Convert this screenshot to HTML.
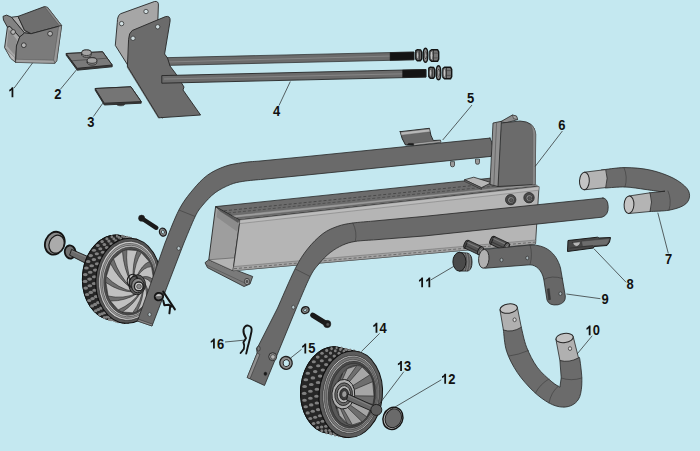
<!DOCTYPE html>
<html><head><meta charset="utf-8"><title>Parts diagram</title>
<style>
html,body{margin:0;padding:0;background:#c4e8f0;}
body{width:700px;height:451px;overflow:hidden;}
svg{display:block}
text{font-family:"Liberation Sans",sans-serif;font-weight:bold;font-size:13.8px;fill:#111;}
</style></head><body>
<svg width="700" height="451" viewBox="0 0 700 451">
<rect width="700" height="451" fill="#c4e8f0"/>
<polygon points="7.4,27.1 9.9,26.3 19.7,37.0 16.4,46.0 15.6,62.4 10.7,58.3 4.6,47.6" fill="#a9a9a9" stroke="#262626" stroke-width="0.9" stroke-linejoin="round" />
<polygon points="8.5,29.0 17.0,40.0 14.5,55.0 7.0,46.0" fill="#8c8c8c" stroke="none" stroke-width="0" stroke-linejoin="round" />
<polygon points="5.5,48.5 14.8,57.5 15.2,61.8 10.7,58.0" fill="#b8b8b8" stroke="#555" stroke-width="0.4" stroke-linejoin="round" />
<polygon points="3.0,16.4 6.6,15.1 11.5,17.2 24.6,32.9 19.7,37.0 9.9,26.3 7.4,27.1 3.5,20.0" fill="#828282" stroke="#262626" stroke-width="0.9" stroke-linejoin="round" />
<polygon points="11.5,17.2 18.0,16.4 24.6,30.4 31.2,33.7 24.6,32.9" fill="#adadad" stroke="#262626" stroke-width="0.9" stroke-linejoin="round" />
<polygon points="18.0,16.4 44.4,6.6 47.6,7.4 61.6,25.5 31.2,33.7 24.6,30.4" fill="#6e6e6e" stroke="#262626" stroke-width="0.9" stroke-linejoin="round" />
<polygon points="44.4,6.6 47.6,7.4 61.6,25.5 59.5,26.1" fill="#8a8a8a" stroke="#444" stroke-width="0.4" stroke-linejoin="round" />
<polygon points="19.7,37.0 24.6,32.9 31.2,33.7 61.6,25.5 56.7,60.8 55.0,63.2 15.6,62.4 16.4,46.0" fill="#7b7b7b" stroke="#262626" stroke-width="0.9" stroke-linejoin="round" />
<polygon points="58.6,26.8 61.6,25.5 56.7,60.8 55.0,63.2 53.6,60.2" fill="#999" stroke="#444" stroke-width="0.4" stroke-linejoin="round" />
<polygon points="16.0,59.3 53.6,60.2 55.0,63.2 15.6,62.4" fill="#a2a2a2" stroke="#444" stroke-width="0.4" stroke-linejoin="round" />
<circle cx="13.1" cy="32.0" r="2.4" fill="#b4b4b4" stroke="#262626" stroke-width="0.8"/>
<circle cx="50.1" cy="33.7" r="2.4" fill="#b4b4b4" stroke="#262626" stroke-width="0.8"/>
<circle cx="23.8" cy="45.2" r="2.4" fill="#b4b4b4" stroke="#262626" stroke-width="0.8"/>
<polygon points="66.2,53.5 102.6,51.8 112.2,65.0 112.2,66.8 77.2,70.2 66.2,55.2" fill="#3c3c3c" stroke="#262626" stroke-width="0.9" stroke-linejoin="round" />
<polygon points="66.2,53.5 102.6,51.8 112.2,65.0 77.2,68.3" fill="#7a7a7a" stroke="#262626" stroke-width="0.9" stroke-linejoin="round" />
<line x1="71.5" y1="60.8" x2="107.2" y2="58.2" stroke="#3a3a3a" stroke-width="0.6"/>
<path d="M81.7,54.5 v-1.8 a4.8,2.8 0 0 1 9.6,0 v1.8 a4.8,2.8 0 0 1 -9.6,0z" fill="#8e8e8e" stroke="#262626" stroke-width="0.8" stroke-linejoin="round" stroke-linecap="round" />
<ellipse cx="86.5" cy="52.7" rx="4.8" ry="2.8" fill="#a4a4a4" stroke="#262626" stroke-width="0.8" transform="rotate(0.0 86.5 52.7)"/>
<path d="M87.2,62.3 v-1.8 a4.8,2.8 0 0 1 9.6,0 v1.8 a4.8,2.8 0 0 1 -9.6,0z" fill="#8e8e8e" stroke="#262626" stroke-width="0.8" stroke-linejoin="round" stroke-linecap="round" />
<ellipse cx="92.0" cy="60.5" rx="4.8" ry="2.8" fill="#a4a4a4" stroke="#262626" stroke-width="0.8" transform="rotate(0.0 92.0 60.5)"/>
<ellipse cx="120.7" cy="103.6" rx="4.2" ry="2.2" fill="#3c3c3c" stroke="#262626" stroke-width="0.6" transform="rotate(0.0 120.7 103.6)"/>
<polygon points="95.2,88.5 130.9,86.8 141.2,101.6 141.2,103.2 104.3,105.0 95.2,90.2" fill="#3a3a3a" stroke="#262626" stroke-width="0.9" stroke-linejoin="round" />
<polygon points="95.2,88.5 130.9,86.8 141.2,101.6 104.3,103.2" fill="#757575" stroke="#262626" stroke-width="0.9" stroke-linejoin="round" />
<path d="M117.3,22 Q117.3,16 120.4,13.8 L154.5,1.5 Q158.6,0.8 158.4,5 L157,45 L140,85 L128.6,66.5 L115.5,45.7 Z" fill="#a6a6a6" stroke="#262626" stroke-width="0.9" stroke-linejoin="round" stroke-linecap="round" />
<circle cx="121.6" cy="23.6" r="2.2" fill="#d0dde0" stroke="#262626" stroke-width="0.7"/>
<circle cx="146.0" cy="11.5" r="2.2" fill="#d0dde0" stroke="#262626" stroke-width="0.7"/>
<polygon points="160.0,57.8 414.0,52.0 414.0,59.8 160.0,65.6" fill="#6b6b6b" stroke="#262626" stroke-width="0.7" stroke-linejoin="round" />
<line x1="160.0" y1="62.2" x2="392.0" y2="56.0" stroke="#8c8c8c" stroke-width="0.8"/>
<polygon points="390.0,52.6 414.0,52.0 414.0,59.8 390.0,60.4" fill="#141414" stroke="#262626" stroke-width="0.5" stroke-linejoin="round" />
<polygon points="128.2,66.0 159.3,117.0 158.6,118.2 127.0,66.8" fill="#b0b0b0" stroke="#262626" stroke-width="0.5" stroke-linejoin="round" />
<path d="M128.6,39 Q128.8,33 132.2,30.5 L165.5,16.6 Q170.6,15.4 170.1,21 L164.6,54 L167.5,58 L170,66 L176,74 L184,87 L183,90 L200.6,115 L159,117.8 L127.6,66.5 Z" fill="#6b6b6b" stroke="#262626" stroke-width="0.9" stroke-linejoin="round" stroke-linecap="round" />
<line x1="161.0" y1="117.0" x2="163.0" y2="118.5" stroke="#222" stroke-width="0.5"/>
<circle cx="133.0" cy="38.3" r="2.2" fill="#d0dde0" stroke="#262626" stroke-width="0.7"/>
<circle cx="157.7" cy="26.8" r="2.2" fill="#d0dde0" stroke="#262626" stroke-width="0.7"/>
<polygon points="161.8,75.6 426.0,69.5 426.0,77.1 161.8,83.2" fill="#6b6b6b" stroke="#262626" stroke-width="0.9" stroke-linejoin="round" />
<line x1="164.0" y1="79.0" x2="404.0" y2="73.8" stroke="#8c8c8c" stroke-width="0.8"/>
<polygon points="402.5,70.0 426.0,69.5 426.0,77.1 402.5,77.6" fill="#141414" stroke="#262626" stroke-width="0.5" stroke-linejoin="round" />
<polygon points="415.8,50.7 417.5,49.7 420.7,49.9 421.7,52.3 421.7,58.8 420.5,60.7 417.3,60.7 415.8,59.1" fill="#6e6e6e" stroke="#141414" stroke-width="1.4" stroke-linejoin="round" />
<ellipse cx="417.7" cy="55.3" rx="1.1" ry="3.4" fill="#c8c8c8" stroke="#333" stroke-width="0.5" transform="rotate(0.0 417.7 55.3)"/>
<line x1="419.3" y1="50.3" x2="419.3" y2="60.3" stroke="#141414" stroke-width="0.6"/>
<ellipse cx="425.5" cy="55.3" rx="2.3" ry="7.0" fill="#8c8c8c" stroke="#141414" stroke-width="1.4" transform="rotate(0.0 425.5 55.3)"/>
<ellipse cx="425.8" cy="55.3" rx="1.0" ry="3.6" fill="#cfcfcf" stroke="#141414" stroke-width="0.7" transform="rotate(0.0 425.8 55.3)"/>
<polygon points="429.9,51.0 431.5,49.7 437.5,49.7 438.7,51.8 438.7,59.1 437.5,61.3 431.5,61.3 429.9,59.8" fill="#777" stroke="#141414" stroke-width="1.4" stroke-linejoin="round" />
<ellipse cx="431.5" cy="55.5" rx="1.3" ry="4.2" fill="#c4c4c4" stroke="#333" stroke-width="0.5" transform="rotate(0.0 431.5 55.5)"/>
<line x1="433.5" y1="49.9" x2="433.5" y2="61.1" stroke="#141414" stroke-width="0.6"/>
<line x1="433.5" y1="53.1" x2="438.7" y2="53.1" stroke="#333" stroke-width="0.5"/>
<line x1="433.5" y1="57.9" x2="438.7" y2="57.9" stroke="#333" stroke-width="0.5"/>
<polygon points="428.8,68.2 430.5,67.2 433.7,67.4 434.7,69.8 434.7,76.3 433.5,78.2 430.3,78.2 428.8,76.6" fill="#6e6e6e" stroke="#141414" stroke-width="1.4" stroke-linejoin="round" />
<ellipse cx="430.7" cy="72.8" rx="1.1" ry="3.4" fill="#c8c8c8" stroke="#333" stroke-width="0.5" transform="rotate(0.0 430.7 72.8)"/>
<line x1="432.3" y1="67.8" x2="432.3" y2="77.8" stroke="#141414" stroke-width="0.6"/>
<ellipse cx="438.5" cy="72.8" rx="2.3" ry="7.0" fill="#8c8c8c" stroke="#141414" stroke-width="1.4" transform="rotate(0.0 438.5 72.8)"/>
<ellipse cx="438.8" cy="72.8" rx="1.0" ry="3.6" fill="#cfcfcf" stroke="#141414" stroke-width="0.7" transform="rotate(0.0 438.8 72.8)"/>
<polygon points="442.9,68.5 444.5,67.2 450.5,67.2 451.7,69.3 451.7,76.6 450.5,78.8 444.5,78.8 442.9,77.3" fill="#777" stroke="#141414" stroke-width="1.4" stroke-linejoin="round" />
<ellipse cx="444.5" cy="73.0" rx="1.3" ry="4.2" fill="#c4c4c4" stroke="#333" stroke-width="0.5" transform="rotate(0.0 444.5 73.0)"/>
<line x1="446.5" y1="67.4" x2="446.5" y2="78.6" stroke="#141414" stroke-width="0.6"/>
<line x1="446.5" y1="70.6" x2="451.7" y2="70.6" stroke="#333" stroke-width="0.5"/>
<line x1="446.5" y1="75.4" x2="451.7" y2="75.4" stroke="#333" stroke-width="0.5"/>
<ellipse cx="54.8" cy="243.2" rx="9.6" ry="11.7" fill="#8a8a8a" stroke="#141414" stroke-width="1.8" transform="rotate(22.0 54.8 243.2)"/>
<ellipse cx="56.6" cy="244.2" rx="7.4" ry="9.2" fill="#ababab" stroke="#1a1a1a" stroke-width="1.2" transform="rotate(22.0 56.6 244.2)"/>
<ellipse cx="70.2" cy="252.0" rx="5.4" ry="6.6" fill="#707070" stroke="#141414" stroke-width="1.8" transform="rotate(-10.0 70.2 252.0)"/>
<polygon points="71.5,249.4 89.9,257.4 85.9,263.4 69.6,255.2" fill="#6a6a6a" stroke="#1a1a1a" stroke-width="0.9" stroke-linejoin="round" />
<line x1="72.0" y1="251.0" x2="89.0" y2="258.6" stroke="#8c8c8c" stroke-width="0.7"/>
<g>
<ellipse cx="114.8" cy="277.6" rx="32.3" ry="42.6" fill="#262626" stroke="#111" stroke-width="1.0" transform="rotate(4.0 114.8 277.6)"/>
<polygon points="111.8,320.1 110.1,319.9 108.5,319.6 106.8,319.2 105.2,318.7 103.6,318.1 102.0,317.3 100.5,316.5 99.0,315.5 97.5,314.4 96.1,313.3 94.8,312.0 93.5,310.7 92.2,309.2 91.0,307.7 89.9,306.1 88.9,304.4 87.9,302.6 87.0,300.8 86.2,298.9 85.4,296.9 84.7,294.9 84.2,292.8 83.7,290.7 83.2,288.6 82.9,286.4 82.7,284.2 82.5,282.0 82.4,279.8 82.5,277.6 82.6,275.3 82.8,273.1 83.1,270.9 83.4,268.7 83.9,266.6 84.4,264.4 85.1,262.3 85.8,260.3 86.6,258.3 87.4,256.3 88.4,254.4 89.4,252.6 90.5,250.8 91.6,249.1 92.8,247.5 94.1,246.0 95.4,244.5 96.8,243.2 98.3,241.9 99.7,240.7 101.3,239.7 102.8,238.7 104.4,237.9 106.0,237.1 107.7,236.5 109.3,236.0 111.0,235.6 112.7,235.3 114.4,235.1 116.1,235.0 117.8,235.1 131.2,238.3 129.5,238.2 127.8,238.3 126.1,238.5 124.4,238.8 122.7,239.2 121.1,239.7 119.4,240.3 117.8,241.1 116.2,241.9 114.7,242.9 113.1,243.9 111.7,245.1 110.2,246.4 108.8,247.7 107.5,249.2 106.2,250.7 105.0,252.3 103.9,254.0 102.8,255.8 101.8,257.6 100.8,259.5 100.0,261.5 99.2,263.5 98.5,265.5 97.8,267.6 97.3,269.8 96.8,271.9 96.5,274.1 96.2,276.3 96.0,278.5 95.9,280.8 95.8,283.0 95.9,285.2 96.1,287.4 96.3,289.6 96.6,291.8 97.1,293.9 97.6,296.0 98.1,298.1 98.8,300.1 99.6,302.1 100.4,304.0 101.3,305.8 102.3,307.6 103.3,309.3 104.4,310.9 105.6,312.4 106.9,313.9 108.2,315.2 109.5,316.5 110.9,317.6 112.4,318.7 113.9,319.7 115.4,320.5 117.0,321.3 118.6,321.9 120.2,322.4 121.9,322.8 123.5,323.1 125.2,323.3" fill="#262626" stroke="#111" stroke-width="1.0" stroke-linejoin="round" />
<ellipse cx="124.3" cy="319.1" rx="1.36" ry="1.55" fill="#808080"/>
<ellipse cx="119.3" cy="320.3" rx="1.13" ry="1.55" fill="#808080"/>
<ellipse cx="114.1" cy="320.5" rx="0.91" ry="1.55" fill="#808080"/>
<ellipse cx="109.1" cy="319.5" rx="1.15" ry="1.55" fill="#808080"/>
<ellipse cx="104.2" cy="317.6" rx="1.38" ry="1.55" fill="#808080"/>
<ellipse cx="99.7" cy="314.6" rx="1.60" ry="1.55" fill="#808080"/>
<ellipse cx="95.7" cy="310.7" rx="1.80" ry="1.55" fill="#808080"/>
<ellipse cx="92.1" cy="305.9" rx="1.98" ry="1.55" fill="#808080"/>
<ellipse cx="89.3" cy="300.5" rx="2.13" ry="1.55" fill="#808080"/>
<ellipse cx="87.1" cy="294.5" rx="2.25" ry="1.55" fill="#808080"/>
<ellipse cx="85.7" cy="288.1" rx="2.34" ry="1.55" fill="#808080"/>
<ellipse cx="85.1" cy="281.4" rx="2.39" ry="1.55" fill="#808080"/>
<ellipse cx="85.3" cy="274.6" rx="2.40" ry="1.55" fill="#808080"/>
<ellipse cx="86.4" cy="268.0" rx="2.37" ry="1.55" fill="#808080"/>
<ellipse cx="88.2" cy="261.5" rx="2.31" ry="1.55" fill="#808080"/>
<ellipse cx="90.8" cy="255.6" rx="2.21" ry="1.55" fill="#808080"/>
<ellipse cx="94.0" cy="250.2" rx="2.08" ry="1.55" fill="#808080"/>
<ellipse cx="97.8" cy="245.5" rx="1.91" ry="1.55" fill="#808080"/>
<ellipse cx="102.1" cy="241.6" rx="1.72" ry="1.55" fill="#808080"/>
<ellipse cx="106.9" cy="238.7" rx="1.51" ry="1.55" fill="#808080"/>
<ellipse cx="111.8" cy="236.8" rx="1.29" ry="1.55" fill="#808080"/>
<ellipse cx="116.9" cy="235.9" rx="1.05" ry="1.55" fill="#808080"/>
<ellipse cx="122.1" cy="236.1" rx="0.99" ry="1.55" fill="#808080"/>
<ellipse cx="127.0" cy="237.4" rx="1.22" ry="1.55" fill="#808080"/>
<ellipse cx="126.3" cy="320.9" rx="1.25" ry="1.55" fill="#808080"/>
<ellipse cx="121.2" cy="321.6" rx="1.01" ry="1.55" fill="#808080"/>
<ellipse cx="116.1" cy="321.2" rx="1.03" ry="1.55" fill="#808080"/>
<ellipse cx="111.1" cy="319.7" rx="1.26" ry="1.55" fill="#808080"/>
<ellipse cx="106.4" cy="317.3" rx="1.49" ry="1.55" fill="#808080"/>
<ellipse cx="102.1" cy="313.8" rx="1.70" ry="1.55" fill="#808080"/>
<ellipse cx="98.3" cy="309.5" rx="1.89" ry="1.55" fill="#808080"/>
<ellipse cx="95.1" cy="304.4" rx="2.06" ry="1.55" fill="#808080"/>
<ellipse cx="92.6" cy="298.6" rx="2.20" ry="1.55" fill="#808080"/>
<ellipse cx="90.8" cy="292.4" rx="2.30" ry="1.55" fill="#808080"/>
<ellipse cx="89.8" cy="285.8" rx="2.37" ry="1.55" fill="#808080"/>
<ellipse cx="89.6" cy="279.1" rx="2.40" ry="1.55" fill="#808080"/>
<ellipse cx="90.2" cy="272.3" rx="2.39" ry="1.55" fill="#808080"/>
<ellipse cx="91.7" cy="265.8" rx="2.35" ry="1.55" fill="#808080"/>
<ellipse cx="93.9" cy="259.6" rx="2.26" ry="1.55" fill="#808080"/>
<ellipse cx="96.8" cy="253.8" rx="2.15" ry="1.55" fill="#808080"/>
<ellipse cx="100.3" cy="248.8" rx="2.00" ry="1.55" fill="#808080"/>
<ellipse cx="104.4" cy="244.5" rx="1.82" ry="1.55" fill="#808080"/>
<ellipse cx="108.9" cy="241.1" rx="1.62" ry="1.55" fill="#808080"/>
<ellipse cx="113.8" cy="238.7" rx="1.40" ry="1.55" fill="#808080"/>
<ellipse cx="118.8" cy="237.2" rx="1.17" ry="1.55" fill="#808080"/>
<ellipse cx="124.0" cy="236.9" rx="0.93" ry="1.55" fill="#808080"/>
<ellipse cx="129.0" cy="237.7" rx="1.11" ry="1.55" fill="#808080"/>
<ellipse cx="133.9" cy="239.5" rx="1.34" ry="1.55" fill="#808080"/>
<ellipse cx="133.3" cy="321.2" rx="1.36" ry="1.55" fill="#808080"/>
<ellipse cx="128.2" cy="322.5" rx="1.13" ry="1.55" fill="#808080"/>
<ellipse cx="123.1" cy="322.6" rx="0.91" ry="1.55" fill="#808080"/>
<ellipse cx="118.0" cy="321.7" rx="1.15" ry="1.55" fill="#808080"/>
<ellipse cx="113.2" cy="319.7" rx="1.38" ry="1.55" fill="#808080"/>
<ellipse cx="108.7" cy="316.7" rx="1.60" ry="1.55" fill="#808080"/>
<ellipse cx="104.6" cy="312.8" rx="1.80" ry="1.55" fill="#808080"/>
<ellipse cx="101.1" cy="308.1" rx="1.98" ry="1.55" fill="#808080"/>
<ellipse cx="98.2" cy="302.6" rx="2.13" ry="1.55" fill="#808080"/>
<ellipse cx="96.0" cy="296.6" rx="2.25" ry="1.55" fill="#808080"/>
<ellipse cx="94.6" cy="290.2" rx="2.34" ry="1.55" fill="#808080"/>
<ellipse cx="94.1" cy="283.5" rx="2.39" ry="1.55" fill="#808080"/>
<ellipse cx="94.3" cy="276.8" rx="2.40" ry="1.55" fill="#808080"/>
<ellipse cx="95.3" cy="270.1" rx="2.37" ry="1.55" fill="#808080"/>
<ellipse cx="97.1" cy="263.7" rx="2.31" ry="1.55" fill="#808080"/>
<ellipse cx="99.7" cy="257.7" rx="2.21" ry="1.55" fill="#808080"/>
<ellipse cx="102.9" cy="252.3" rx="2.08" ry="1.55" fill="#808080"/>
<ellipse cx="106.8" cy="247.6" rx="1.91" ry="1.55" fill="#808080"/>
<ellipse cx="111.1" cy="243.7" rx="1.72" ry="1.55" fill="#808080"/>
<ellipse cx="115.8" cy="240.8" rx="1.51" ry="1.55" fill="#808080"/>
<ellipse cx="120.8" cy="238.9" rx="1.29" ry="1.55" fill="#808080"/>
<ellipse cx="125.9" cy="238.0" rx="1.05" ry="1.55" fill="#808080"/>
<ellipse cx="131.0" cy="238.2" rx="0.99" ry="1.55" fill="#808080"/>
<ellipse cx="136.0" cy="239.5" rx="1.22" ry="1.55" fill="#808080"/>
<ellipse cx="128.2" cy="280.8" rx="32.3" ry="42.6" fill="#555" stroke="#111" stroke-width="1.0" transform="rotate(4.0 128.2 280.8)"/>
<ellipse cx="128.5" cy="280.8" rx="29.9" ry="39.6" fill="#c8c8c8" stroke="#222" stroke-width="0.6" transform="rotate(4.0 128.5 280.8)"/>
<ellipse cx="128.8" cy="280.9" rx="28.3" ry="37.6" fill="#9a9a9a" stroke="#333" stroke-width="0.5" transform="rotate(4.0 128.8 280.9)"/>
<ellipse cx="129.1" cy="281.0" rx="26.9" ry="35.8" fill="#c4c4c4" stroke="#222" stroke-width="0.5" transform="rotate(4.0 129.1 281.0)"/>
<ellipse cx="129.4" cy="281.1" rx="25.7" ry="34.2" fill="#505050" stroke="#222" stroke-width="0.5" transform="rotate(4.0 129.4 281.1)"/>
<ellipse cx="129.8" cy="281.3" rx="24.1" ry="32.2" fill="#6e6e6e" stroke="#222" stroke-width="0.5" transform="rotate(4.0 129.8 281.3)"/>
</g>
<path d="M141.2,277.9 Q148.9,277.5 153.3,286.1 L149.1,299.1 Q148.8,287.5 143.3,281.4 Z" fill="#c0c0c0" stroke="#222" stroke-width="0.6" stroke-linejoin="round" stroke-linecap="round" />
<path d="M143.5,282.1 Q148.0,290.5 146.1,303.8 L137.1,311.3 Q143.5,298.8 143.5,286.7 Z" fill="#c0c0c0" stroke="#222" stroke-width="0.6" stroke-linejoin="round" stroke-linecap="round" />
<path d="M143.3,287.4 Q141.6,300.7 132.7,312.8 L122.3,312.0 Q134.5,304.0 141.3,291.2 Z" fill="#c0c0c0" stroke="#222" stroke-width="0.6" stroke-linejoin="round" stroke-linecap="round" />
<path d="M140.8,291.6 Q132.1,304.1 118.2,309.9 L110.4,301.0 Q125.0,301.3 137.6,293.3 Z" fill="#c0c0c0" stroke="#222" stroke-width="0.6" stroke-linejoin="round" stroke-linecap="round" />
<path d="M137.0,293.3 Q123.1,299.5 108.1,296.0 L105.9,282.5 Q118.8,291.6 133.7,292.1 Z" fill="#c0c0c0" stroke="#222" stroke-width="0.6" stroke-linejoin="round" stroke-linecap="round" />
<path d="M133.2,291.7 Q118.1,288.6 106.3,276.5 L110.5,263.5 Q118.2,278.6 131.1,288.2 Z" fill="#c0c0c0" stroke="#222" stroke-width="0.6" stroke-linejoin="round" stroke-linecap="round" />
<path d="M130.9,287.5 Q119.0,275.6 113.5,258.8 L122.5,251.3 Q123.5,267.3 130.9,282.9 Z" fill="#c0c0c0" stroke="#222" stroke-width="0.6" stroke-linejoin="round" stroke-linecap="round" />
<path d="M131.1,282.2 Q125.4,265.4 126.9,249.8 L137.3,250.6 Q132.5,262.1 133.1,278.4 Z" fill="#c0c0c0" stroke="#222" stroke-width="0.6" stroke-linejoin="round" stroke-linecap="round" />
<path d="M133.6,278.0 Q134.9,262.0 141.4,252.7 L149.2,261.6 Q142.0,264.8 136.8,276.3 Z" fill="#c0c0c0" stroke="#222" stroke-width="0.6" stroke-linejoin="round" stroke-linecap="round" />
<path d="M137.4,276.3 Q143.9,266.6 151.5,266.6 L153.7,280.1 Q148.2,274.5 140.7,277.5 Z" fill="#c0c0c0" stroke="#222" stroke-width="0.6" stroke-linejoin="round" stroke-linecap="round" />
<ellipse cx="137.2" cy="284.8" rx="8.2" ry="10.0" fill="#5a5a5a" stroke="#1a1a1a" stroke-width="0.9" transform="rotate(4.0 137.2 284.8)"/>
<ellipse cx="132.6" cy="280.8" rx="5.4" ry="6.6" fill="none" stroke="#1a1a1a" stroke-width="1.0" transform="rotate(4.0 132.6 280.8)"/>
<ellipse cx="133.8" cy="282.2" rx="4.6" ry="5.8" fill="none" stroke="#1a1a1a" stroke-width="0.8" transform="rotate(4.0 133.8 282.2)"/>
<ellipse cx="137.8" cy="285.6" rx="6.2" ry="7.2" fill="#8a8a8a" stroke="#1a1a1a" stroke-width="0.9" transform="rotate(4.0 137.8 285.6)"/>
<ellipse cx="138.8" cy="286.4" rx="4.4" ry="4.4" fill="#d6d6d6" stroke="#222" stroke-width="1.5" transform="rotate(4.0 138.8 286.4)"/>
<ellipse cx="139.0" cy="286.5" rx="2.4" ry="2.3" fill="#8a8a8a" stroke="#333" stroke-width="0.6" transform="rotate(4.0 139.0 286.5)"/>
<path d="M490,138.1 L305,156.7 L260,161 L260.0,161.0 C257.1,161.3 248.6,161.7 242.8,162.6 C237.0,163.5 231.0,164.2 225.2,166.3 C219.3,168.4 213.1,171.1 207.7,175.0 C202.3,178.9 197.5,184.2 192.7,190.0 C187.9,195.8 183.5,201.2 178.9,210.0 C174.3,218.8 167.3,237.5 165.0,243.0 L137.5,321 L152,326 L183.9,243 L183.9,243.0 C185.8,238.6 192.1,222.8 195.2,216.5 C198.3,210.2 199.4,209.2 202.7,205.2 C206.0,201.2 210.6,196.1 215.2,192.7 C219.8,189.3 225.7,186.5 230.3,184.6 C234.9,182.7 237.5,182.3 242.8,181.4 C248.1,180.5 258.8,179.7 262.0,179.4 L305,175.2 L491,156.4 Q495,147 490,138.1 Z" fill="#6a6a6a" stroke="#262626" stroke-width="0.8" stroke-linejoin="round" stroke-linecap="round" />
<line x1="178.9" y1="210.0" x2="195.2" y2="216.5" stroke="#333" stroke-width="0.5"/>
<ellipse cx="178.7" cy="248.3" rx="1.7" ry="2.0" fill="#b7c6ca" stroke="#262626" stroke-width="0.6" transform="rotate(0.0 178.7 248.3)"/>
<ellipse cx="149.6" cy="314.5" rx="1.6" ry="1.9" fill="#b7c6ca" stroke="#262626" stroke-width="0.6" transform="rotate(0.0 149.6 314.5)"/>
<polygon points="137.5,321.0 152.0,326.0 152.6,324.2 138.2,319.2" fill="#8a8a8a" stroke="#262626" stroke-width="0.5" stroke-linejoin="round" />
<path d="M142,218.5 L156.3,227.8" fill="none" stroke="#1a1a1a" stroke-width="4.4" stroke-linejoin="round" stroke-linecap="round" />
<circle cx="141.6" cy="218.2" r="3.1" fill="#1a1a1a" stroke="#262626" stroke-width="0.5"/>
<ellipse cx="162.9" cy="232.1" rx="3.4" ry="4.1" fill="#8a8a8a" stroke="#1e1e1e" stroke-width="1.3" transform="rotate(-20.0 162.9 232.1)"/>
<ellipse cx="162.9" cy="232.1" rx="1.4" ry="1.9" fill="#c4e8f0" stroke="#222" stroke-width="0.7" transform="rotate(-20.0 162.9 232.1)"/>
<ellipse cx="158.9" cy="296.6" rx="4.2" ry="3.7" fill="#6a6a6a" stroke="#141414" stroke-width="1.9" transform="rotate(-15.0 158.9 296.6)"/>
<path d="M155.6,296.2 Q158.5,292 162,295.8 Z" fill="#cfcfcf" stroke="#888" stroke-width="0.3" stroke-linejoin="round" stroke-linecap="round" />
<path d="M163.2,291.6 L174.9,309.4 M163.2,300.6 L164.4,305.2 L168.8,304.8 L171.2,306.6 M170.2,306.4 L169.4,313.3" fill="none" stroke="#141414" stroke-width="2.0" stroke-linejoin="round" stroke-linecap="round" />
<path d="M400.2,131.7 L429.4,128.3 Q430.5,136 433.3,140.5 L440.5,140.2 L440.8,142.2 L413.9,145.3 L405.5,145 Q401.5,139 400.2,131.7 Z" fill="#686868" stroke="#1c1c1c" stroke-width="0.9" stroke-linejoin="round" stroke-linecap="round" />
<polygon points="400.6,132.2 429.3,128.9 430.0,131.8 401.4,135.2" fill="#b8b8b8" stroke="#555" stroke-width="0.4" stroke-linejoin="round" />
<polygon points="413.9,143.4 440.5,140.5 440.8,142.2 413.9,145.3" fill="#aaaaaa" stroke="#444" stroke-width="0.4" stroke-linejoin="round" />
<polygon points="408.5,143.2 413.5,143.2 413.5,145.0 407.0,145.0" fill="#1c1c1c" stroke="#262626" stroke-width="0.2" stroke-linejoin="round" />
<path d="M450.5,162.0 v3.2 a2,1.6 0 0 0 4,0 v-3.2z" fill="#9a9a9a" stroke="#262626" stroke-width="0.7" stroke-linejoin="round" stroke-linecap="round" />
<path d="M475.5,159.5 v3.2 a2,1.6 0 0 0 4,0 v-3.2z" fill="#9a9a9a" stroke="#262626" stroke-width="0.7" stroke-linejoin="round" stroke-linecap="round" />
<polygon points="205.0,262.7 208.8,259.7 252.7,276.5 250.0,284.0 244.0,286.5 207.5,267.7" fill="#7a7a7a" stroke="#262626" stroke-width="0.8" stroke-linejoin="round" />
<line x1="206.5" y1="265.0" x2="246.0" y2="283.5" stroke="#444" stroke-width="0.5"/>
<ellipse cx="247.0" cy="281.5" rx="2.6" ry="3.2" fill="#a0a0a0" stroke="#262626" stroke-width="0.7" transform="rotate(0.0 247.0 281.5)"/>
<ellipse cx="247.0" cy="281.5" rx="1.0" ry="1.3" fill="#555" stroke="#262626" stroke-width="0.4" transform="rotate(0.0 247.0 281.5)"/>
<polygon points="215.6,206.6 240.0,220.0 233.0,270.7 208.8,259.7" fill="#9e9e9e" stroke="#262626" stroke-width="0.9" stroke-linejoin="round" />
<polygon points="217.5,209.5 238.6,222.0 237.6,232.0 216.6,217.0" fill="#8c8c8c" stroke="none" stroke-width="0" stroke-linejoin="round" />
<polygon points="211.0,259.6 234.6,257.8 233.0,270.7 208.8,259.7" fill="#b4b4b4" stroke="#444" stroke-width="0.5" stroke-linejoin="round" />
<polygon points="216.4,207.4 239.0,220.3 238.2,222.6 220.0,211.0" fill="#585858" stroke="#444" stroke-width="0.4" stroke-linejoin="round" />
<polygon points="215.6,206.6 497.0,177.5 539.0,186.6 240.0,220.0" fill="#6c6c6c" stroke="#262626" stroke-width="0.8" stroke-linejoin="round" />
<polygon points="232.0,215.4 535.0,184.0 537.5,185.4 236.0,217.6" fill="#9c9c9c" stroke="#555" stroke-width="0.3" stroke-linejoin="round" />
<line x1="224" y1="210.8" x2="520" y2="180.8" stroke="#3a3a3a" stroke-width="0.7" stroke-dasharray="3 2"/>
<line x1="228" y1="213" x2="530" y2="182.6" stroke="#3a3a3a" stroke-width="0.6" stroke-dasharray="3 2"/>
<polygon points="240.0,220.0 539.0,186.6 535.5,244.0 233.0,270.7" fill="#b5b5b5" stroke="#262626" stroke-width="0.8" stroke-linejoin="round" />
<polygon points="240.0,220.0 539.0,186.6 538.8,190.2 239.6,223.6" fill="#bcbcbc" stroke="#666" stroke-width="0.4" stroke-linejoin="round" />
<polygon points="233.6,266.6 535.8,240.0 535.5,244.0 233.0,270.7" fill="#a4a4a4" stroke="#555" stroke-width="0.4" stroke-linejoin="round" />
<line x1="234" y1="268.7" x2="535.6" y2="242.1" stroke="#444" stroke-width="0.6" stroke-dasharray="3 2"/>
<circle cx="510.7" cy="199.7" r="5.2" fill="#4c4c4c" stroke="#262626" stroke-width="0.8"/>
<circle cx="511.0" cy="200.0" r="3.4" fill="#8c8c8c" stroke="#262626" stroke-width="0.7"/>
<circle cx="511.3" cy="200.2" r="1.8" fill="#5a5a5a" stroke="#262626" stroke-width="0.5"/>
<circle cx="529.0" cy="197.7" r="5.2" fill="#4c4c4c" stroke="#262626" stroke-width="0.8"/>
<circle cx="529.3" cy="198.0" r="3.4" fill="#8c8c8c" stroke="#262626" stroke-width="0.7"/>
<circle cx="529.6" cy="198.2" r="1.8" fill="#5a5a5a" stroke="#262626" stroke-width="0.5"/>
<polygon points="464.5,179.7 473.8,177.2 491.4,182.7 481.4,187.7" fill="#b6b6b6" stroke="#262626" stroke-width="0.8" stroke-linejoin="round" />
<polygon points="464.5,179.7 481.4,187.7 481.4,189.4 464.5,181.4" fill="#6a6a6a" stroke="#262626" stroke-width="0.6" stroke-linejoin="round" />
<polygon points="500.5,121.8 512.4,115.0 516.5,116.2 517.6,119.6 506.0,122.9" fill="#8c8c8c" stroke="#262626" stroke-width="0.8" stroke-linejoin="round" />
<polygon points="512.4,115.0 516.5,116.2 517.6,119.6 513.6,118.6" fill="#a4a4a4" stroke="#262626" stroke-width="0.5" stroke-linejoin="round" />
<path d="M501.4,123 L520,121 Q534.5,121.5 535.7,134 L535.2,184.5 L498,186.5 Z" fill="#6b6b6b" stroke="#262626" stroke-width="0.8" stroke-linejoin="round" stroke-linecap="round" />
<path d="M530.5,124.5 Q535,127 535.7,134 L535.2,184.5 L532.6,184.7 L533,134 Q532.6,128 530.5,124.5 Z" fill="#8a8a8a" stroke="#555" stroke-width="0.4" stroke-linejoin="round" stroke-linecap="round" />
<polygon points="493.0,123.0 501.4,121.3 498.0,186.5 490.0,184.5" fill="#909090" stroke="#262626" stroke-width="0.8" stroke-linejoin="round" />
<line x1="496.6" y1="122.4" x2="493.8" y2="185.5" stroke="#444" stroke-width="0.5"/>
<path d="M603,198 L425,216.3 L372,221.2 L372.0,221.2 C368.8,221.5 358.5,222.2 352.8,223.0 C347.1,223.8 342.7,224.5 337.7,226.3 C332.7,228.1 327.7,230.0 322.7,233.8 C317.7,237.6 312.2,243.1 307.6,248.9 C303.0,254.8 300.1,259.0 295.1,268.9 C290.1,278.8 280.5,301.5 277.6,308.0 L258.3,346 L256.5,348.3 L257.1,353.1 L247.2,377.5 L264.5,385.5 L296.4,308 L296.4,308.0 C298.7,302.8 306.4,283.9 310.2,276.5 C313.9,269.1 315.6,267.9 318.9,263.9 C322.2,259.9 326.2,255.7 330.2,252.6 C334.2,249.5 338.5,247.0 342.7,245.1 C346.9,243.2 349.9,242.3 355.3,241.4 C360.7,240.5 371.7,240.1 375.0,239.8 L425,235.9 L602,217.2 Q608.6,215 608.2,206.5 Q607.8,198.4 603,198 Z" fill="#6a6a6a" stroke="#262626" stroke-width="0.8" stroke-linejoin="round" stroke-linecap="round" />
<path d="M352.8,223 Q357.5,232 355.3,241.4" fill="none" stroke="#333" stroke-width="0.5" stroke-linejoin="round" stroke-linecap="round" />
<line x1="295.1" y1="268.9" x2="310.2" y2="276.5" stroke="#333" stroke-width="0.5"/>
<polygon points="257.1,353.1 247.2,377.5 250.0,378.8 259.8,354.5" fill="#909090" stroke="#262626" stroke-width="0.5" stroke-linejoin="round" />
<ellipse cx="293.3" cy="307.2" rx="1.6" ry="1.9" fill="#b7c6ca" stroke="#262626" stroke-width="0.6" transform="rotate(0.0 293.3 307.2)"/>
<ellipse cx="265.4" cy="373.8" rx="1.5" ry="1.8" fill="#1a1a1a" stroke="#262626" stroke-width="0.4" transform="rotate(0.0 265.4 373.8)"/>
<circle cx="272.7" cy="356.7" r="4.0" fill="#8a8a8a" stroke="#262626" stroke-width="0.9"/>
<circle cx="272.9" cy="356.9" r="2.3" fill="#b4b4b4" stroke="#262626" stroke-width="0.6"/>
<ellipse cx="258.6" cy="348.6" rx="1.6" ry="2.4" fill="#7a7a7a" stroke="#262626" stroke-width="0.6" transform="rotate(0.0 258.6 348.6)"/>
<ellipse cx="466.5" cy="244.2" rx="2.2" ry="4.3" fill="#4a4a4a" stroke="#1c1c1c" stroke-width="0.9" transform="rotate(25.2 466.5 244.2)"/>
<polygon points="464.7,248.1 478.7,254.7 482.3,246.9 468.3,240.3" fill="#555" stroke="#1c1c1c" stroke-width="0.9" stroke-linejoin="round" />
<line x1="467.3" y1="242.4" x2="481.3" y2="249.0" stroke="#7c7c7c" stroke-width="1.1"/>
<line x1="465.8" y1="245.8" x2="479.8" y2="252.4" stroke="#3a3a3a" stroke-width="1.1"/>
<ellipse cx="480.5" cy="250.8" rx="2.4" ry="4.3" fill="#6e6e6e" stroke="#1c1c1c" stroke-width="0.9" transform="rotate(25.2 480.5 250.8)"/>
<ellipse cx="480.8" cy="250.8" rx="1.2" ry="2.2" fill="#a0a0a0" stroke="#333" stroke-width="0.5" transform="rotate(25.2 480.8 250.8)"/>
<ellipse cx="492.5" cy="240.3" rx="2.2" ry="4.3" fill="#4a4a4a" stroke="#1c1c1c" stroke-width="0.9" transform="rotate(25.2 492.5 240.3)"/>
<polygon points="490.7,244.2 504.7,250.8 508.3,243.0 494.3,236.4" fill="#555" stroke="#1c1c1c" stroke-width="0.9" stroke-linejoin="round" />
<line x1="493.3" y1="238.5" x2="507.3" y2="245.1" stroke="#7c7c7c" stroke-width="1.1"/>
<line x1="491.8" y1="241.9" x2="505.8" y2="248.5" stroke="#3a3a3a" stroke-width="1.1"/>
<ellipse cx="506.5" cy="246.9" rx="2.4" ry="4.3" fill="#6e6e6e" stroke="#1c1c1c" stroke-width="0.9" transform="rotate(25.2 506.5 246.9)"/>
<ellipse cx="506.8" cy="246.9" rx="1.2" ry="2.2" fill="#a0a0a0" stroke="#333" stroke-width="0.5" transform="rotate(25.2 506.8 246.9)"/>
<path d="M484,249.4 L530,245 C545,244.5 556,252 560.5,268 L565.3,296 Q566,303 558,304.8 Q549,306 547,300 L543.8,279.4 C542,270 536,265 530,264.8 L485,268.2 Z" fill="#676767" stroke="#262626" stroke-width="0.8" stroke-linejoin="round" stroke-linecap="round" />
<ellipse cx="483.8" cy="258.8" rx="5.2" ry="9.4" fill="#b0b0b0" stroke="#262626" stroke-width="0.9" transform="rotate(4.0 483.8 258.8)"/>
<path d="M530,245 Q533,254 530,264.8" fill="none" stroke="#333" stroke-width="0.5" stroke-linejoin="round" stroke-linecap="round" />
<path d="M543.8,279.4 Q552,275 562.5,278.5" fill="none" stroke="#333" stroke-width="0.5" stroke-linejoin="round" stroke-linecap="round" />
<ellipse cx="501.5" cy="260.0" rx="1.5" ry="1.8" fill="#a8b4b8" stroke="#262626" stroke-width="0.6" transform="rotate(0.0 501.5 260.0)"/>
<ellipse cx="527.3" cy="258.0" rx="1.5" ry="1.8" fill="#a8b4b8" stroke="#262626" stroke-width="0.6" transform="rotate(0.0 527.3 258.0)"/>
<ellipse cx="560.4" cy="293.7" rx="1.5" ry="1.8" fill="#a8b4b8" stroke="#262626" stroke-width="0.6" transform="rotate(0.0 560.4 293.7)"/>
<polygon points="547.3,289.0 549.3,288.6 550.6,299.5 548.6,299.9" fill="#3a3a3a" stroke="#262626" stroke-width="0.3" stroke-linejoin="round" />
<path d="M459.4,252.4 L468,253.2 Q472,255 472,262 Q472,269.5 468,271 L459.4,271 Z" fill="#5a5a5a" stroke="#1c1c1c" stroke-width="0.9" stroke-linejoin="round" stroke-linecap="round" />
<path d="M464.0,253.2 q3,8.6 0,17.6" fill="none" stroke="#9a9a9a" stroke-width="0.6" stroke-linejoin="round" stroke-linecap="round" />
<path d="M466.5,253.2 q3,8.6 0,17.6" fill="none" stroke="#9a9a9a" stroke-width="0.6" stroke-linejoin="round" stroke-linecap="round" />
<path d="M469.0,253.2 q3,8.6 0,17.6" fill="none" stroke="#9a9a9a" stroke-width="0.6" stroke-linejoin="round" stroke-linecap="round" />
<ellipse cx="459.4" cy="261.7" rx="6.5" ry="9.4" fill="#4a4a4a" stroke="#1c1c1c" stroke-width="1.0" transform="rotate(0.0 459.4 261.7)"/>
<polygon points="568.0,240.5 597.5,237.2 599.0,238.0 610.5,237.5 609.5,242.0 607.0,245.5 594.0,246.5 593.5,248.0 567.5,251.5" fill="#484848" stroke="#1a1a1a" stroke-width="1.0" stroke-linejoin="round" />
<polygon points="581.5,241.2 609.6,238.6 608.6,242.0 606.4,244.8 582.5,246.4" fill="#6c6c6c" stroke="#333" stroke-width="0.4" stroke-linejoin="round" />
<path d="M572.6,242.6 L580.6,241.8 Q579.5,246.4 576.2,246.4 Q573.4,246 572.6,242.6 Z" fill="#b6b6b6" stroke="#222" stroke-width="0.5" stroke-linejoin="round" stroke-linecap="round" />
<line x1="569.5" y1="248.2" x2="593.0" y2="245.6" stroke="#222" stroke-width="0.5"/>
<path d="M601.4,170.0 C605.3,169.6 616.9,167.6 625.0,167.6 C633.1,167.6 642.0,168.3 650.0,170.0 C658.0,171.7 666.8,174.9 673.0,178.0 C679.2,181.1 684.3,185.2 687.0,188.5 C689.7,191.8 689.9,195.2 689.3,198.0 C688.7,200.8 686.9,203.5 683.5,205.5 C680.1,207.5 674.6,209.2 669.0,210.2 C663.4,211.2 653.2,211.3 650.0,211.5 L649.5,192.8 L665,191.2  L660,191.6 L660.0,191.6 C657.5,191.2 650.8,190.2 645.0,189.4 C639.2,188.6 631.5,187.2 625.0,187.0 C618.5,186.8 608.9,187.8 605.7,188.0 Z" fill="#6b6b6b" stroke="#262626" stroke-width="0.8" stroke-linejoin="round" stroke-linecap="round" />
<path d="M584.4,172.2 L605.7,169.6 Q608.5,178 605.7,187.6 L584.4,189.8 Z" fill="#b4b4b4" stroke="#262626" stroke-width="0.8" stroke-linejoin="round" stroke-linecap="round" />
<ellipse cx="584.4" cy="181.0" rx="4.9" ry="8.8" fill="#c4c4c4" stroke="#262626" stroke-width="1.0" transform="rotate(3.0 584.4 181.0)"/>
<path d="M629,196 L650,192.8 Q653,202 650,211.5 L629,213.5 Z" fill="#b4b4b4" stroke="#262626" stroke-width="0.8" stroke-linejoin="round" stroke-linecap="round" />
<ellipse cx="629.0" cy="204.7" rx="4.9" ry="8.8" fill="#c4c4c4" stroke="#262626" stroke-width="1.0" transform="rotate(3.0 629.0 204.7)"/>
<path d="M624,167.7 Q628,177 625,187" fill="none" stroke="#333" stroke-width="0.5" stroke-linejoin="round" stroke-linecap="round" />
<path d="M668,191 Q672,200 669,210.2" fill="none" stroke="#333" stroke-width="0.5" stroke-linejoin="round" stroke-linecap="round" />
<path d="M503.4,330.0 C503.9,333.5 504.3,344.1 506.6,351.2 C508.9,358.3 512.9,365.9 517.3,372.5 C521.7,379.1 527.9,386.0 533.2,391.1 C538.5,396.2 544.3,400.4 549.2,403.1 C554.1,405.8 558.5,406.9 562.5,407.1 C566.5,407.3 570.3,406.3 573.2,404.5 C576.1,402.7 578.3,400.5 579.8,396.5 C581.2,392.5 581.9,386.7 581.9,380.5 C581.9,374.3 580.4,363.0 579.8,359.2 C579.2,355.4 578.7,358.1 578.5,357.9 L559.9,360.5 L561.2,377.8 L559.9,387.2 L559.9,387.2 C558.6,386.3 555.7,385.1 551.9,381.8 C548.1,378.5 541.4,373.0 537.2,367.2 C533.0,361.4 529.2,353.8 526.6,347.2 C524.0,340.6 522.2,330.6 521.3,327.3 Z" fill="#6b6b6b" stroke="#262626" stroke-width="0.8" stroke-linejoin="round" stroke-linecap="round" />
<path d="M500,310 L503.4,330 Q512,333 521.3,327.3 L517.3,307.3 Z" fill="#b0b0b0" stroke="#262626" stroke-width="0.8" stroke-linejoin="round" stroke-linecap="round" />
<ellipse cx="508.7" cy="308.6" rx="8.7" ry="4.6" fill="#c2c2c2" stroke="#262626" stroke-width="1.0" transform="rotate(-8.0 508.7 308.6)"/>
<path d="M555.9,339.2 L559.9,360.5 Q569,363 578.5,357.9 L573.2,336.6 Z" fill="#b0b0b0" stroke="#262626" stroke-width="0.8" stroke-linejoin="round" stroke-linecap="round" />
<ellipse cx="564.6" cy="338.0" rx="8.7" ry="4.6" fill="#c2c2c2" stroke="#262626" stroke-width="1.0" transform="rotate(-8.0 564.6 338.0)"/>
<ellipse cx="514.6" cy="319.8" rx="1.6" ry="1.9" fill="#ddd" stroke="#262626" stroke-width="0.7" transform="rotate(0.0 514.6 319.8)"/>
<ellipse cx="570.0" cy="348.6" rx="1.6" ry="1.9" fill="#ddd" stroke="#262626" stroke-width="0.7" transform="rotate(0.0 570.0 348.6)"/>
<path d="M509,356 Q518,355 528.5,350.5" fill="none" stroke="#333" stroke-width="0.5" stroke-linejoin="round" stroke-linecap="round" />
<path d="M535.5,393 Q540,384 549,379" fill="none" stroke="#333" stroke-width="0.5" stroke-linejoin="round" stroke-linecap="round" />
<path d="M549,403 Q551,392 558.5,386" fill="none" stroke="#333" stroke-width="0.5" stroke-linejoin="round" stroke-linecap="round" />
<path d="M561.2,378 Q571,381.5 581.8,378" fill="none" stroke="#333" stroke-width="0.5" stroke-linejoin="round" stroke-linecap="round" />
<g>
<ellipse cx="332.3" cy="390.1" rx="31.6" ry="43.4" fill="#262626" stroke="#111" stroke-width="1.0" transform="rotate(5.5 332.3 390.1)"/>
<polygon points="328.1,433.3 326.5,433.1 324.9,432.7 323.3,432.3 321.7,431.7 320.1,431.0 318.6,430.2 317.1,429.3 315.7,428.3 314.3,427.2 313.0,426.0 311.7,424.7 310.4,423.3 309.3,421.8 308.2,420.2 307.1,418.5 306.1,416.8 305.2,414.9 304.4,413.0 303.7,411.1 303.0,409.1 302.4,407.0 301.9,404.9 301.4,402.8 301.1,400.6 300.8,398.4 300.7,396.1 300.6,393.9 300.6,391.6 300.7,389.3 300.8,387.1 301.1,384.8 301.5,382.6 301.9,380.4 302.4,378.2 303.0,376.0 303.7,373.9 304.4,371.8 305.3,369.8 306.2,367.8 307.1,365.9 308.2,364.0 309.3,362.3 310.5,360.6 311.7,358.9 313.0,357.4 314.3,356.0 315.7,354.6 317.2,353.4 318.7,352.2 320.2,351.2 321.7,350.2 323.3,349.4 324.9,348.7 326.5,348.1 328.2,347.6 329.8,347.2 331.5,347.0 333.1,346.8 334.8,346.8 336.5,346.9 355.0,351.1 353.3,351.0 351.6,351.0 350.0,351.2 348.3,351.4 346.7,351.8 345.0,352.3 343.4,352.9 341.8,353.6 340.2,354.4 338.7,355.4 337.2,356.4 335.7,357.6 334.2,358.8 332.8,360.2 331.5,361.6 330.2,363.1 329.0,364.8 327.8,366.5 326.7,368.2 325.6,370.1 324.7,372.0 323.8,374.0 322.9,376.0 322.2,378.1 321.5,380.2 320.9,382.4 320.4,384.6 320.0,386.8 319.6,389.0 319.3,391.3 319.2,393.5 319.1,395.8 319.1,398.1 319.2,400.3 319.3,402.6 319.6,404.8 319.9,407.0 320.4,409.1 320.9,411.2 321.5,413.3 322.2,415.3 322.9,417.2 323.7,419.1 324.6,421.0 325.6,422.7 326.7,424.4 327.8,426.0 328.9,427.5 330.2,428.9 331.5,430.2 332.8,431.4 334.2,432.5 335.6,433.5 337.1,434.4 338.6,435.2 340.2,435.9 341.8,436.5 343.4,436.9 345.0,437.3 346.6,437.5" fill="#262626" stroke="#111" stroke-width="1.0" stroke-linejoin="round" />
<ellipse cx="341.4" cy="432.7" rx="1.36" ry="1.55" fill="#808080"/>
<ellipse cx="336.4" cy="433.8" rx="1.13" ry="1.55" fill="#808080"/>
<ellipse cx="331.4" cy="433.9" rx="0.91" ry="1.55" fill="#808080"/>
<ellipse cx="326.5" cy="432.8" rx="1.15" ry="1.55" fill="#808080"/>
<ellipse cx="321.8" cy="430.7" rx="1.38" ry="1.55" fill="#808080"/>
<ellipse cx="317.5" cy="427.5" rx="1.60" ry="1.55" fill="#808080"/>
<ellipse cx="313.6" cy="423.5" rx="1.80" ry="1.55" fill="#808080"/>
<ellipse cx="310.3" cy="418.5" rx="1.98" ry="1.55" fill="#808080"/>
<ellipse cx="307.7" cy="412.9" rx="2.13" ry="1.55" fill="#808080"/>
<ellipse cx="305.7" cy="406.8" rx="2.25" ry="1.55" fill="#808080"/>
<ellipse cx="304.5" cy="400.2" rx="2.34" ry="1.55" fill="#808080"/>
<ellipse cx="304.2" cy="393.4" rx="2.39" ry="1.55" fill="#808080"/>
<ellipse cx="304.6" cy="386.5" rx="2.40" ry="1.55" fill="#808080"/>
<ellipse cx="305.8" cy="379.7" rx="2.37" ry="1.55" fill="#808080"/>
<ellipse cx="307.8" cy="373.3" rx="2.31" ry="1.55" fill="#808080"/>
<ellipse cx="310.4" cy="367.2" rx="2.21" ry="1.55" fill="#808080"/>
<ellipse cx="313.8" cy="361.8" rx="2.08" ry="1.55" fill="#808080"/>
<ellipse cx="317.7" cy="357.1" rx="1.91" ry="1.55" fill="#808080"/>
<ellipse cx="322.0" cy="353.3" rx="1.72" ry="1.55" fill="#808080"/>
<ellipse cx="326.7" cy="350.4" rx="1.51" ry="1.55" fill="#808080"/>
<ellipse cx="331.6" cy="348.6" rx="1.29" ry="1.55" fill="#808080"/>
<ellipse cx="336.6" cy="347.8" rx="1.05" ry="1.55" fill="#808080"/>
<ellipse cx="341.6" cy="348.1" rx="0.99" ry="1.55" fill="#808080"/>
<ellipse cx="346.5" cy="349.5" rx="1.22" ry="1.55" fill="#808080"/>
<ellipse cx="345.1" cy="434.8" rx="1.25" ry="1.55" fill="#808080"/>
<ellipse cx="340.1" cy="435.4" rx="1.01" ry="1.55" fill="#808080"/>
<ellipse cx="335.1" cy="434.9" rx="1.03" ry="1.55" fill="#808080"/>
<ellipse cx="330.3" cy="433.3" rx="1.26" ry="1.55" fill="#808080"/>
<ellipse cx="325.8" cy="430.6" rx="1.49" ry="1.55" fill="#808080"/>
<ellipse cx="321.6" cy="427.0" rx="1.70" ry="1.55" fill="#808080"/>
<ellipse cx="318.1" cy="422.5" rx="1.89" ry="1.55" fill="#808080"/>
<ellipse cx="315.1" cy="417.2" rx="2.06" ry="1.55" fill="#808080"/>
<ellipse cx="312.8" cy="411.3" rx="2.20" ry="1.55" fill="#808080"/>
<ellipse cx="311.2" cy="404.9" rx="2.30" ry="1.55" fill="#808080"/>
<ellipse cx="310.4" cy="398.2" rx="2.37" ry="1.55" fill="#808080"/>
<ellipse cx="310.4" cy="391.3" rx="2.40" ry="1.55" fill="#808080"/>
<ellipse cx="311.3" cy="384.5" rx="2.39" ry="1.55" fill="#808080"/>
<ellipse cx="312.9" cy="377.9" rx="2.35" ry="1.55" fill="#808080"/>
<ellipse cx="315.2" cy="371.6" rx="2.26" ry="1.55" fill="#808080"/>
<ellipse cx="318.2" cy="365.8" rx="2.15" ry="1.55" fill="#808080"/>
<ellipse cx="321.8" cy="360.8" rx="2.00" ry="1.55" fill="#808080"/>
<ellipse cx="325.9" cy="356.5" rx="1.82" ry="1.55" fill="#808080"/>
<ellipse cx="330.5" cy="353.1" rx="1.62" ry="1.55" fill="#808080"/>
<ellipse cx="335.3" cy="350.7" rx="1.40" ry="1.55" fill="#808080"/>
<ellipse cx="340.3" cy="349.4" rx="1.17" ry="1.55" fill="#808080"/>
<ellipse cx="345.3" cy="349.2" rx="0.93" ry="1.55" fill="#808080"/>
<ellipse cx="350.2" cy="350.1" rx="1.11" ry="1.55" fill="#808080"/>
<ellipse cx="355.0" cy="352.0" rx="1.34" ry="1.55" fill="#808080"/>
<ellipse cx="353.7" cy="435.5" rx="1.36" ry="1.55" fill="#808080"/>
<ellipse cx="348.7" cy="436.6" rx="1.13" ry="1.55" fill="#808080"/>
<ellipse cx="343.7" cy="436.7" rx="0.91" ry="1.55" fill="#808080"/>
<ellipse cx="338.8" cy="435.6" rx="1.15" ry="1.55" fill="#808080"/>
<ellipse cx="334.1" cy="433.5" rx="1.38" ry="1.55" fill="#808080"/>
<ellipse cx="329.8" cy="430.3" rx="1.60" ry="1.55" fill="#808080"/>
<ellipse cx="325.9" cy="426.3" rx="1.80" ry="1.55" fill="#808080"/>
<ellipse cx="322.6" cy="421.3" rx="1.98" ry="1.55" fill="#808080"/>
<ellipse cx="320.0" cy="415.7" rx="2.13" ry="1.55" fill="#808080"/>
<ellipse cx="318.1" cy="409.6" rx="2.25" ry="1.55" fill="#808080"/>
<ellipse cx="316.9" cy="403.0" rx="2.34" ry="1.55" fill="#808080"/>
<ellipse cx="316.5" cy="396.2" rx="2.39" ry="1.55" fill="#808080"/>
<ellipse cx="316.9" cy="389.3" rx="2.40" ry="1.55" fill="#808080"/>
<ellipse cx="318.1" cy="382.5" rx="2.37" ry="1.55" fill="#808080"/>
<ellipse cx="320.1" cy="376.1" rx="2.31" ry="1.55" fill="#808080"/>
<ellipse cx="322.8" cy="370.0" rx="2.21" ry="1.55" fill="#808080"/>
<ellipse cx="326.1" cy="364.6" rx="2.08" ry="1.55" fill="#808080"/>
<ellipse cx="330.0" cy="359.9" rx="1.91" ry="1.55" fill="#808080"/>
<ellipse cx="334.3" cy="356.1" rx="1.72" ry="1.55" fill="#808080"/>
<ellipse cx="339.0" cy="353.2" rx="1.51" ry="1.55" fill="#808080"/>
<ellipse cx="343.9" cy="351.4" rx="1.29" ry="1.55" fill="#808080"/>
<ellipse cx="349.0" cy="350.6" rx="1.05" ry="1.55" fill="#808080"/>
<ellipse cx="354.0" cy="350.9" rx="0.99" ry="1.55" fill="#808080"/>
<ellipse cx="358.8" cy="352.3" rx="1.22" ry="1.55" fill="#808080"/>
<ellipse cx="350.8" cy="394.3" rx="31.6" ry="43.4" fill="#5c5c5c" stroke="#111" stroke-width="1.0" transform="rotate(5.5 350.8 394.3)"/>
<ellipse cx="351.1" cy="394.3" rx="28.2" ry="39.1" fill="#c4c4c4" stroke="#222" stroke-width="0.6" transform="rotate(5.5 351.1 394.3)"/>
<ellipse cx="351.3" cy="394.3" rx="27.0" ry="37.6" fill="#777" stroke="#222" stroke-width="0.5" transform="rotate(5.5 351.3 394.3)"/>
<ellipse cx="351.7" cy="394.5" rx="25.0" ry="35.0" fill="#c0c0c0" stroke="#222" stroke-width="0.5" transform="rotate(5.5 351.7 394.5)"/>
<ellipse cx="351.9" cy="394.6" rx="24.0" ry="33.7" fill="#484848" stroke="#222" stroke-width="0.5" transform="rotate(5.5 351.9 394.6)"/>
<ellipse cx="352.4" cy="394.8" rx="22.2" ry="31.4" fill="#5a5a5a" stroke="#222" stroke-width="0.5" transform="rotate(5.5 352.4 394.8)"/>
</g>
<ellipse cx="354.6" cy="395.2" rx="19.6" ry="30.0" fill="#6e6e6e" stroke="#222" stroke-width="0.5" transform="rotate(5.5 354.6 395.2)"/>
<path d="M351.1,399.6 L372.6,404.3 L366.8,416.8 L348.3,403.7 Z" fill="#a6a6a6" stroke="#222" stroke-width="0.6" stroke-linejoin="round" stroke-linecap="round" />
<path d="M345.6,405.6 L362.0,421.7 L352.4,424.9 L341.6,406.1 Z" fill="#a6a6a6" stroke="#222" stroke-width="0.6" stroke-linejoin="round" stroke-linecap="round" />
<path d="M338.8,404.9 L347.1,423.5 L339.3,415.6 L335.8,401.4 Z" fill="#a6a6a6" stroke="#222" stroke-width="0.6" stroke-linejoin="round" stroke-linecap="round" />
<path d="M334.6,397.9 L336.5,408.7 L335.2,394.4 L334.4,392.6 Z" fill="#a6a6a6" stroke="#222" stroke-width="0.6" stroke-linejoin="round" stroke-linecap="round" />
<path d="M335.5,388.8 L336.6,386.1 L342.4,373.6 L338.3,384.7 Z" fill="#a6a6a6" stroke="#222" stroke-width="0.6" stroke-linejoin="round" stroke-linecap="round" />
<path d="M341.0,382.8 L347.2,368.7 L356.8,365.5 L345.0,382.3 Z" fill="#a6a6a6" stroke="#222" stroke-width="0.6" stroke-linejoin="round" stroke-linecap="round" />
<path d="M347.8,383.5 L362.1,366.9 L369.9,374.8 L350.8,387.0 Z" fill="#a6a6a6" stroke="#222" stroke-width="0.6" stroke-linejoin="round" stroke-linecap="round" />
<path d="M352.0,390.5 L372.7,381.7 L374.0,396.0 L352.2,395.8 Z" fill="#a6a6a6" stroke="#222" stroke-width="0.6" stroke-linejoin="round" stroke-linecap="round" />
<ellipse cx="343.3" cy="394.2" rx="11.4" ry="14.8" fill="#b0b0b0" stroke="#1a1a1a" stroke-width="0.9" transform="rotate(5.5 343.3 394.2)"/>
<ellipse cx="343.6" cy="394.2" rx="8.8" ry="11.4" fill="#6a6a6a" stroke="#1a1a1a" stroke-width="0.8" transform="rotate(5.5 343.6 394.2)"/>
<ellipse cx="343.8" cy="394.2" rx="6.6" ry="8.6" fill="#b4b4b4" stroke="#1a1a1a" stroke-width="0.8" transform="rotate(5.5 343.8 394.2)"/>
<ellipse cx="344.1" cy="394.2" rx="4.4" ry="5.8" fill="#3e3e3e" stroke="#1a1a1a" stroke-width="0.8" transform="rotate(5.5 344.1 394.2)"/>
<ellipse cx="344.3" cy="394.2" rx="2.6" ry="3.4" fill="#9a9a9a" stroke="#1a1a1a" stroke-width="0.6" transform="rotate(5.5 344.3 394.2)"/>
<polygon points="348.0,394.0 374.5,406.0 371.5,411.0 346.6,400.0" fill="#686868" stroke="#1a1a1a" stroke-width="0.9" stroke-linejoin="round" />
<line x1="348.0" y1="395.6" x2="373.6" y2="407.2" stroke="#8a8a8a" stroke-width="0.8"/>
<circle cx="376.3" cy="409.9" r="5.5" fill="#5c5c5c" stroke="#1a1a1a" stroke-width="0.9"/>
<ellipse cx="392.9" cy="418.4" rx="9.8" ry="11.4" fill="#b0b0b0" stroke="#141414" stroke-width="1.4" transform="rotate(22.0 392.9 418.4)"/>
<ellipse cx="393.3" cy="418.3" rx="8.0" ry="9.6" fill="#6a6a6a" stroke="#1a1a1a" stroke-width="0.9" transform="rotate(22.0 393.3 418.3)"/>
<ellipse cx="305.3" cy="310.1" rx="3.9" ry="3.3" fill="#8a8a8a" stroke="#1e1e1e" stroke-width="1.4" transform="rotate(-20.0 305.3 310.1)"/>
<ellipse cx="305.3" cy="310.1" rx="1.7" ry="1.3" fill="#c4e8f0" stroke="#222" stroke-width="0.7" transform="rotate(-20.0 305.3 310.1)"/>
<path d="M312.8,315.2 L326.5,323.8" fill="none" stroke="#1a1a1a" stroke-width="5.2" stroke-linejoin="round" stroke-linecap="round" />
<circle cx="327.2" cy="324.0" r="3.7" fill="#1a1a1a" stroke="#262626" stroke-width="0.5"/>
<circle cx="327.8" cy="324.4" r="1.6" fill="#555" stroke="#262626" stroke-width="0.3"/>
<ellipse cx="286.0" cy="362.9" rx="6.2" ry="6.4" fill="#8c8c8c" stroke="#222" stroke-width="1.3" transform="rotate(-15.0 286.0 362.9)"/>
<ellipse cx="286.3" cy="363.1" rx="3.2" ry="3.4" fill="#c4e8f0" stroke="#222" stroke-width="0.9" transform="rotate(-15.0 286.3 363.1)"/>
<path d="M240.6,353 L243.8,349 Q244.8,345.5 243.4,342.2 L246,338.3 Q243,333.5 243.5,329.5 Q245,325 248.2,325.6 Q252.5,326.6 251.5,331.5 L249.9,338.8 L247.7,347.2 L246.2,353.6" fill="none" stroke="#141414" stroke-width="1.9" stroke-linejoin="round" stroke-linecap="round" />
<line x1="32.6" y1="62.9" x2="14.1" y2="88.1" stroke="#222" stroke-width="0.7"/>
<line x1="76.6" y1="69.7" x2="60.3" y2="89.4" stroke="#222" stroke-width="0.7"/>
<line x1="102.9" y1="103.1" x2="93.4" y2="116.5" stroke="#222" stroke-width="0.7"/>
<line x1="290.3" y1="81.5" x2="279.0" y2="105.5" stroke="#222" stroke-width="0.7"/>
<line x1="442.7" y1="140.0" x2="472.0" y2="105.0" stroke="#222" stroke-width="0.7"/>
<line x1="535.2" y1="166.4" x2="562.4" y2="131.0" stroke="#222" stroke-width="0.7"/>
<line x1="657.8" y1="212.7" x2="668.3" y2="253.4" stroke="#222" stroke-width="0.7"/>
<line x1="594.0" y1="248.8" x2="626.1" y2="282.3" stroke="#222" stroke-width="0.7"/>
<line x1="566.4" y1="294.0" x2="600.4" y2="298.7" stroke="#222" stroke-width="0.7"/>
<line x1="577.2" y1="353.9" x2="592.2" y2="335.8" stroke="#222" stroke-width="0.7"/>
<line x1="453.7" y1="266.4" x2="430.7" y2="280.0" stroke="#222" stroke-width="0.7"/>
<line x1="390.0" y1="410.0" x2="441.3" y2="379.8" stroke="#222" stroke-width="0.7"/>
<line x1="378.2" y1="405.5" x2="403.8" y2="371.7" stroke="#222" stroke-width="0.7"/>
<line x1="361.4" y1="351.5" x2="379.6" y2="333.4" stroke="#222" stroke-width="0.7"/>
<line x1="290.4" y1="358.2" x2="301.5" y2="349.4" stroke="#222" stroke-width="0.7"/>
<line x1="246.0" y1="340.0" x2="225.0" y2="342.0" stroke="#222" stroke-width="0.7"/>
<g transform="translate(11.30 97.19) scale(0.94 1.0)"><path d="M2.17,0.00 L0.28,0.00 L0.28,-7.13 L-0.76,-6.17 L-2.17,-5.70 L-2.17,-7.42 L-0.55,-8.35 L0.63,-9.92 L2.17,-9.92 Z" fill="#111"/></g>
<g transform="translate(57.85 99.24) scale(0.94 1.0)"><text x="-3.71" y="0">2</text></g>
<g transform="translate(90.70 126.59) scale(0.94 1.0)"><text x="-3.77" y="0">3</text></g>
<g transform="translate(276.50 116.19) scale(0.94 1.0)"><text x="-3.75" y="0">4</text></g>
<g transform="translate(470.70 103.34) scale(0.94 1.0)"><text x="-3.86" y="0">5</text></g>
<g transform="translate(561.80 129.94) scale(0.94 1.0)"><text x="-3.82" y="0">6</text></g>
<g transform="translate(668.70 263.54) scale(0.94 1.0)"><text x="-3.84" y="0">7</text></g>
<g transform="translate(630.20 288.74) scale(0.94 1.0)"><text x="-3.82" y="0">8</text></g>
<g transform="translate(605.00 304.24) scale(0.94 1.0)"><text x="-3.77" y="0">9</text></g>
<g transform="translate(592.90 335.34) scale(0.94 1.0)"><path d="M-2.52,0.00 L-4.41,0.00 L-4.41,-7.13 L-5.44,-6.17 L-6.85,-5.70 L-6.85,-7.42 L-5.24,-8.35 L-4.05,-9.92 L-2.52,-9.92 Z" fill="#111"/><text x="-0.27" y="0">0</text></g>
<g transform="translate(424.60 287.34) scale(0.94 1.0)"><path d="M-1.67,0.00 L-3.56,0.00 L-3.56,-7.13 L-4.60,-6.17 L-6.00,-5.70 L-6.00,-7.42 L-4.39,-8.35 L-3.20,-9.92 L-1.67,-9.92 Z" fill="#111"/><path d="M6.00,0.00 L4.11,0.00 L4.11,-7.13 L3.08,-6.17 L1.67,-5.70 L1.67,-7.42 L3.28,-8.35 L4.47,-9.92 L6.00,-9.92 Z" fill="#111"/></g>
<g transform="translate(448.40 383.74) scale(0.94 1.0)"><path d="M-2.48,0.00 L-4.37,0.00 L-4.37,-7.13 L-5.41,-6.17 L-6.82,-5.70 L-6.82,-7.42 L-5.20,-8.35 L-4.02,-9.92 L-2.48,-9.92 Z" fill="#111"/><text x="-0.23" y="0">2</text></g>
<g transform="translate(404.30 371.04) scale(0.94 1.0)"><path d="M-2.51,0.00 L-4.40,0.00 L-4.40,-7.13 L-5.44,-6.17 L-6.84,-5.70 L-6.84,-7.42 L-5.23,-8.35 L-4.04,-9.92 L-2.51,-9.92 Z" fill="#111"/><text x="-0.26" y="0">3</text></g>
<g transform="translate(379.80 332.64) scale(0.94 1.0)"><path d="M-2.59,0.00 L-4.49,0.00 L-4.49,-7.13 L-5.52,-6.17 L-6.93,-5.70 L-6.93,-7.42 L-5.31,-8.35 L-4.13,-9.92 L-2.59,-9.92 Z" fill="#111"/><text x="-0.34" y="0">4</text></g>
<g transform="translate(308.60 353.44) scale(0.94 1.0)"><path d="M-2.55,0.00 L-4.44,0.00 L-4.44,-7.13 L-5.48,-6.17 L-6.89,-5.70 L-6.89,-7.42 L-5.27,-8.35 L-4.08,-9.92 L-2.55,-9.92 Z" fill="#111"/><text x="-0.30" y="0">5</text></g>
<g transform="translate(217.20 348.54) scale(0.94 1.0)"><path d="M-2.53,0.00 L-4.42,0.00 L-4.42,-7.13 L-5.45,-6.17 L-6.86,-5.70 L-6.86,-7.42 L-5.24,-8.35 L-4.06,-9.92 L-2.53,-9.92 Z" fill="#111"/><text x="-0.28" y="0">6</text></g>
</svg>
</body></html>
